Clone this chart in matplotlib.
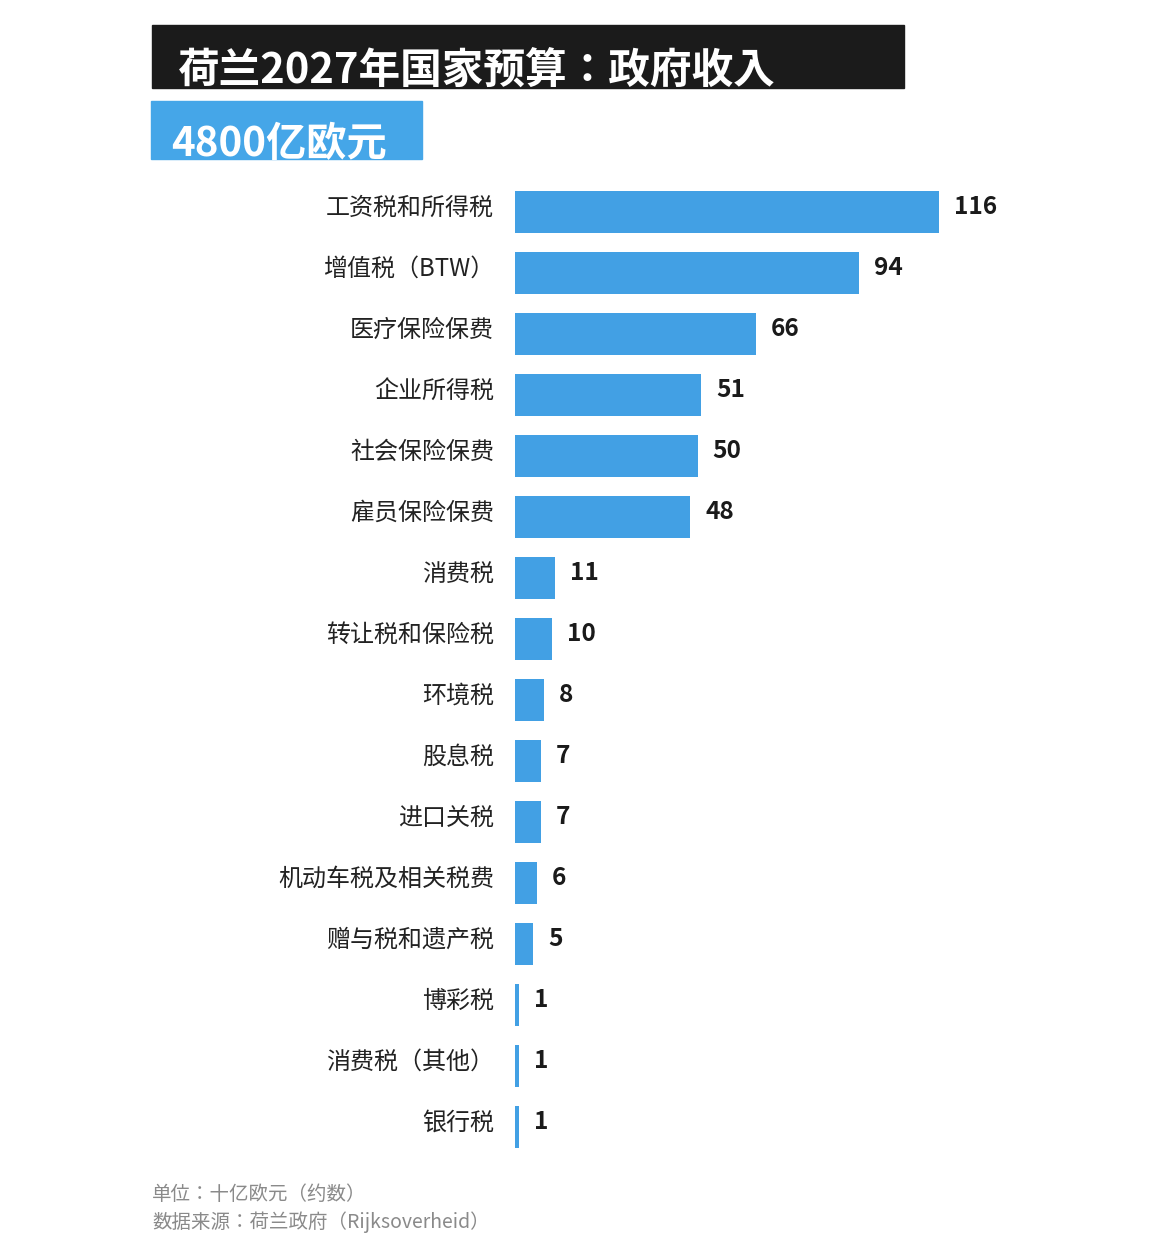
import matplotlib
matplotlib.use('Agg')
import matplotlib.pyplot as plt
from matplotlib.patches import Rectangle
import numpy as np

plt.rcParams['font.family'] = ['Noto Sans CJK SC', 'DejaVu Sans']

categories = ['工资税和所得税', '增值税（BTW）', '医疗保险保费', '企业所得税', '社会保险保费',
              '雇员保险保费', '消费税', '转让税和保险税', '环境税', '股息税', '进口关税',
              '机动车税及相关税费', '赠与税和遗产税', '博彩税', '消费税（其他）', '银行税']
values = [116, 94, 66, 51, 50, 48, 11, 10, 8, 7, 7, 6, 5, 1, 1, 1]

title = '荷兰2027年国家预算：政府收入'
subtitle = '4800亿欧元'
footer = ['单位：十亿欧元（约数）', '数据来源：荷兰政府（Rijksoverheid）']

W, H = 1160, 1238
fig = plt.figure(figsize=(W / 100, H / 100), dpi=100)
fig.patch.set_facecolor('white')


def fx(px):
    return px / W


def fy(py):
    return 1 - py / H


bar_color = '#42a0e4'
# centred full-width colon like the reference
colon_fam = ['Noto Sans CJK JP', 'DejaVu Sans']

# header boxes
fig.patches.append(Rectangle((fx(152), fy(88)), fx(904) - fx(152), fy(25) - fy(88),
                             transform=fig.transFigure, color='#1b1b1b', zorder=0))
fig.patches.append(Rectangle((fx(151), fy(159)), fx(422) - fx(151), fy(101) - fy(159),
                             transform=fig.transFigure, color='#45a6e8', zorder=0))
fig.text(fx(178), fy(83), title, color='white', fontsize=30, fontweight='bold',
         ha='left', va='baseline', family=colon_fam)
fig.text(fx(171), fy(156), subtitle, color='white', fontsize=29, fontweight='bold',
         ha='left', va='baseline')

# bars
left, right = 515, 1060
top, bottom = 181.5, 1157.5
ax = fig.add_axes([fx(left), fy(bottom), fx(right) - fx(left), fy(top) - fy(bottom)])
px_per_unit = 424 / 116
ax.set_xlim(0, (right - left) / px_per_unit)
y = np.arange(len(categories))
ax.set_ylim(len(categories) - 0.5, -0.5)
ax.barh(y, values, height=0.7, color=bar_color)
ax.axis('off')

for yi, cat, v in zip(y, categories, values):
    ax.annotate(cat, (0, yi), xytext=(-21, 4), textcoords='offset pixels',
                ha='right', va='center', fontsize=17.3, color='#222222')
    ax.annotate(str(v), (v, yi), xytext=(15, 5), textcoords='offset pixels',
                ha='left', va='center', fontsize=17.6, fontweight='bold', color='#1a1a1a')

fig.text(fx(152), fy(1195), footer[0], fontsize=14, color='#8a8a8a', ha='left', va='center',
         family=colon_fam)
fig.text(fx(152), fy(1222), footer[1], fontsize=14, color='#8a8a8a', ha='left', va='center',
         family=colon_fam)

fig.savefig('out.png', dpi=100)
